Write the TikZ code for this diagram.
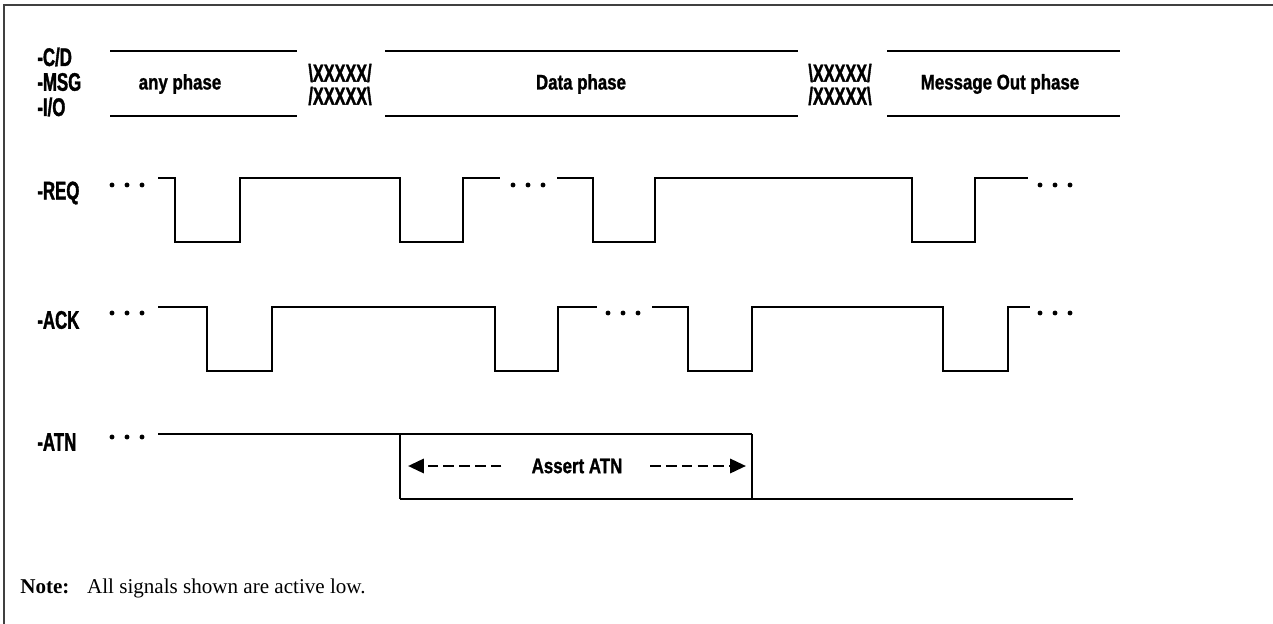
\documentclass[tikz,border=0pt]{standalone}
\usepackage{fontspec}
\setmainfont{Liberation Serif}
\newfontfamily\sigfont{Liberation Sans}[FakeStretch=0.8,FakeBold=1.2]
\newfontfamily\lblfont{Liberation Sans}[FakeStretch=0.66,FakeBold=1.4]
\usetikzlibrary{arrows.meta}

% three dots where a signal goes on
\newcommand{\sigdots}[2]{\foreach \d in {0,15,30} \fill (#1+\d,#2) circle (1.4pt);}

\begin{document}
\begin{tikzpicture}
[x=0.02cm,y=-0.02cm,
 sig/.style={font=\sigfont\bfseries\fontsize{12}{14}\selectfont,inner sep=0pt},
 lbl/.style={inner sep=0pt,anchor=west,font=\lblfont\bfseries\fontsize{14.5}{16}\selectfont},
 xx/.style={inner sep=0pt,font=\lblfont\bfseries\fontsize{14}{14}\selectfont},
 wave/.style={line width=1.5pt},
 edgeline/.style={line width=0.8pt},
 frame/.style={line width=1.2pt,black!75},
 dashy/.style={line width=1.6pt,dash pattern=on 6pt off 3pt,-{Triangle[length=9pt,width=8pt]}}]
\useasboundingbox (0,0) rectangle (1273,624);
\draw[frame] (4,624) -- (4,5) -- (1273,5);

% signal names
\node[lbl] (cd)  at (37,57)  {-C/D};
\node[lbl] (msg) at (37,82)  {-MSG};
\node[lbl] (io)  at (37,107) {-I/O};
\node[lbl] (req) at (37,193) {-REQ};
\node[lbl] (ack) at (37,320) {-ACK};
\node[lbl] (atn) at (37,442) {-ATN};

% phases
\foreach \a/\b in {110/297,385/798,887/1120}
  \draw[wave] (\a,51) -- (\b,51) (\a,116) -- (\b,116);
\node[sig] (anyph)  at (180,84)  {any phase};
\node[sig] (dataph) at (581,84)  {Data phase};
\node[sig] (msgph)  at (1000,84) {Message Out phase};
\node[xx] (xa1) at (340,73) {\textbackslash XXXXX/};
\node[xx] (xa2) at (340,96) {/XXXXX\textbackslash};
\node[xx] (xb1) at (840,73) {\textbackslash XXXXX/};
\node[xx] (xb2) at (840,96) {/XXXXX\textbackslash};

% -REQ
\sigdots{112}{185}
\draw[wave] (158,178) -| (175,242) -| (240,178) -| (400,242) -| (463,178) -- (500,178);
\sigdots{513}{185}
\draw[wave] (557,178) -| (593,242) -| (655,178) -| (912,242) -| (975,178) -- (1028,178);
\sigdots{1040}{185}

% -ACK
\sigdots{112}{313}
\draw[wave] (158,307) -| (207,371) -| (272,307) -| (495,371) -| (558,307) -- (597,307);
\sigdots{608}{313}
\draw[wave] (652,307) -| (688,371) -| (752,307) -| (943,371) -| (1008,307) -- (1030,307);
\sigdots{1040}{313}

% -ATN
\sigdots{112}{437}
\draw[wave] (158,434) -- (752,434);
\draw[wave] (400,499) -- (1073,499);
\draw[edgeline] (400,434) -- (400,499) (752,434) -- (752,499);
\node[sig] (assert) at (577,466) {Assert ATN};
\coordinate (al) at (408,466);
\coordinate (ar) at (746,466);
\draw[dashy] ([xshift=-0.6cm]assert.west) -- (al);
\draw[dashy] ([xshift=0.55cm]assert.east) -- (ar);

\node[anchor=base west,inner sep=0pt,font=\fontsize{12}{14}\selectfont] (note) at (20,593)
  {\textbf{Note:}\hspace{0.5em} All signals shown are active low.};
\end{tikzpicture}
\end{document}
